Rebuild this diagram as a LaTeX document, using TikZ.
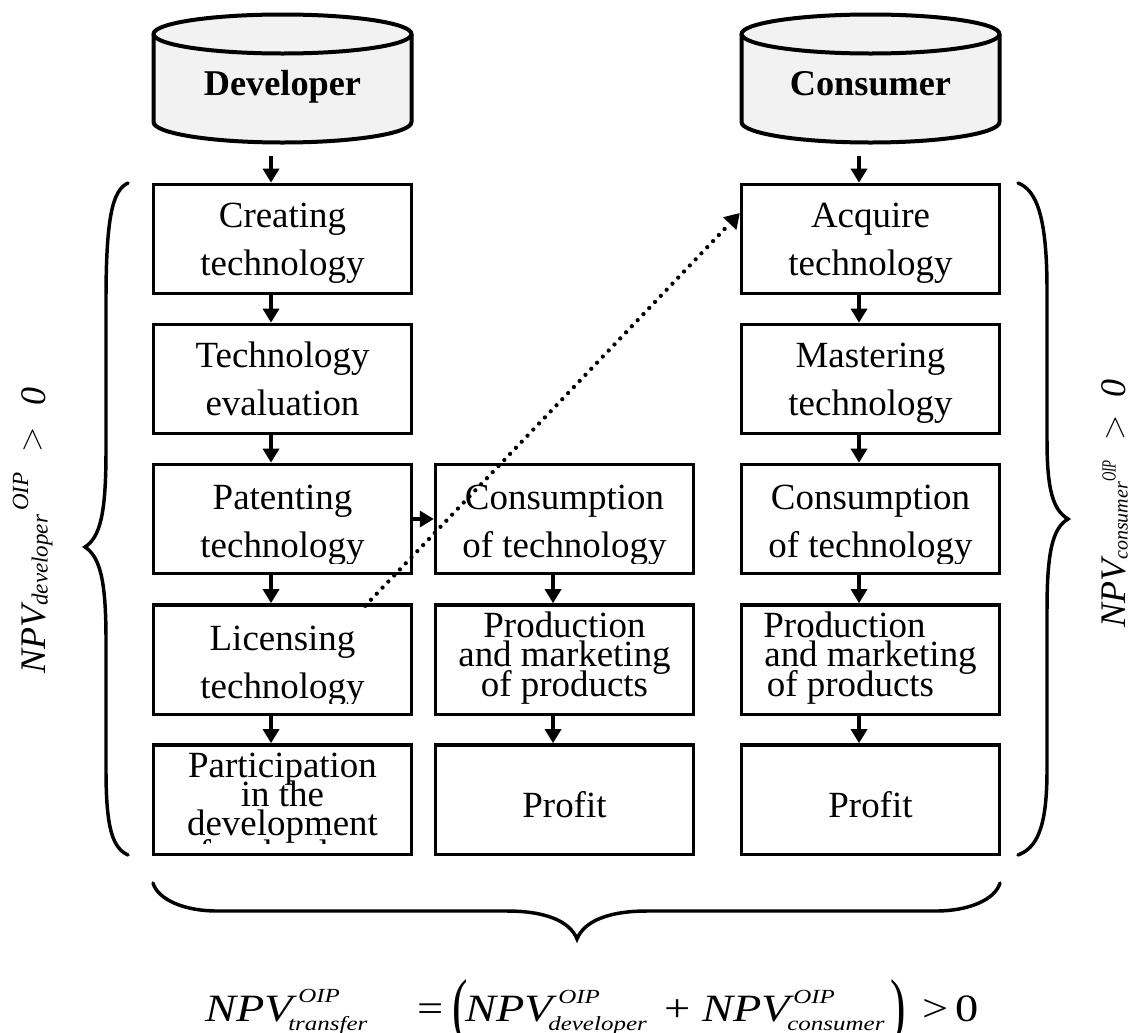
\documentclass[tikz,border=0pt]{standalone}
\usepackage{fontspec}
\usepackage{graphicx}
\setmainfont{Liberation Serif}
\usetikzlibrary{arrows.meta}
\lineskiplimit=-100pt
\tikzset{
  x=.75pt,y=-.75pt,
  ln/.style={line width=2.5pt},
  cellbox/.style={draw,ln,fill=white,minimum width=193.5pt,minimum height=82pt,inner sep=0pt},
  celltext/.style={inner sep=0pt,align=center,anchor=base},
  flow/.style={ln,-{Triangle[length=10.5pt,width=12pt]}},
  dots/.style={line width=3.2pt,line cap=round,dash pattern=on 0pt off 6.3pt,-{Triangle[length=11pt,width=13pt]}},
  brace/.style={line width=2.6pt,line cap=round},
  can/.style={line width=3pt,fill=black!5,line join=round},
  fpart/.style={inner sep=0pt,anchor=base west},
}
\newcommand\maintxt{\fontsize{27.7}{35.5}\selectfont}
\newcommand\tighttxt{\fontsize{27.7}{22}\selectfont}
% #1 name, #2 cx, #3 cy, #4 y of last baseline, #5 font, #6 text
\newcommand\cell[6]{%
  \node[cellbox] (#1) at (#2,#3) {};
  \begin{scope}
    #5
    \clip (#2-127,#3-54) rectangle (#2+127,#3+44);
    \node[celltext,font=#5] (#1t) at (#2,#4) {#6};
  \end{scope}}
\newcommand\fbig[1]{\scalebox{1.2}[1]{\fontsize{29}{29}\selectfont #1}}
\newcommand\fsmall[1]{\scalebox{1.25}[1]{\fontsize{15}{15}\selectfont\itshape #1}}
\newcommand\fparen[1]{\scalebox{1.2}[1.9]{\fontsize{29}{29}\selectfont #1}}
% #1 size, #2 script size, #3 sub, #4 sup raise, #5 sup stretch, #6 kern before sup, #7 kern before the zero, #8 raise of the sign
\newcommand\sidef[8]{{\fontsize{#1}{#1}\selectfont\itshape NPV{\fontsize{#2}{#2}\selectfont\raisebox{-2pt}{#3}\kern #6\raisebox{#4}{\scalebox{#5}[1]{OIP}}}\kern 15pt\raisebox{#8}{$>$}\kern #7 0}}
\begin{document}
\begin{tikzpicture}
\useasboundingbox (0,0) rectangle (1128,1032);
% cylinders
\foreach \n/\cx in {0/282.5,1/870.5}{
  \draw[can] (\cx-129,34) -- (\cx-129,122) arc[start angle=180,end angle=360,x radius=129,y radius=-20.5] -- (\cx+129,34);
  \draw[can] (\cx,34) ellipse[x radius=129,y radius=19.5];
}
\node[inner sep=0pt,minimum width=193.5pt,minimum height=97pt] (dev) at (282.5,79) {};
\node[inner sep=0pt,minimum width=193.5pt,minimum height=97pt] (con) at (870.5,79) {};
\node[inner sep=0pt,anchor=base,font=\fontsize{27.2}{30}\selectfont\bfseries] (devt) at (282.5,95) {Developer};
\node[inner sep=0pt,anchor=base,font=\fontsize{27.2}{30}\selectfont\bfseries] (cont) at (870.5,95) {Consumer};
% column 1
\cell{a1}{282.5}{239}{275}{\maintxt}{Creating\\technology}
\cell{a2}{282.5}{379}{415}{\maintxt}{Technology\\evaluation}
\cell{a3}{282.5}{519}{557}{\maintxt}{Patenting\\technology}
\cell{a4}{282.5}{659.5}{698}{\maintxt}{Licensing\\technology}
\cell{a5}{282.5}{799.5}{865}{\tighttxt}{Participation\\in the\\development\\of technology}
% column 2
\cell{b3}{564.5}{519}{557}{\maintxt}{Consumption\\of technology}
\cell{b4}{564.5}{659.5}{696}{\tighttxt}{Production\\and marketing\\of products}
\cell{b5}{564.5}{799.5}{817}{\maintxt}{Profit}
% column 3
\cell{c1}{870.5}{239}{275}{\maintxt}{Acquire\\technology}
\cell{c2}{870.5}{379}{415}{\maintxt}{Mastering\\technology}
\cell{c3}{870.5}{519}{557}{\maintxt}{Consumption\\of technology}
\cell{c4}{870.5}{659.5}{696}{\tighttxt}{Production\hspace*{39pt}\\and marketing\\of products\hspace*{30pt}}
\cell{c5}{870.5}{799.5}{817}{\maintxt}{Profit}
% arrows
\draw[flow,shorten <=9pt] ([xshift=-8.6pt]dev.south) -- ([xshift=-8.6pt]a1.north);
\draw[flow,shorten <=9pt] ([xshift=-8.6pt]con.south) -- ([xshift=-8.6pt]c1.north);
\foreach \p/\q in {a1/a2,a2/a3,a3/a4,a4/a5,b3/b4,b4/b5,c1/c2,c2/c3,c3/c4,c4/c5}
  \draw[flow] ([xshift=-8.6pt]\p.south) -- ([xshift=-8.6pt]\q.north);
\draw[flow] (a3.east) -- (b3.west);
\draw[dots] ([xshift=62pt,yshift=-2pt]a4.north) -- ([yshift=19.5pt]c1.west);
% braces
\draw[brace] (128,183) .. controls (113,190) and (106,215) .. (106,300) -- (106,450)
  .. controls (106,515) and (100,537) .. (85,547)
  .. controls (100,557) and (106,580) .. (106,640) -- (106,770)
  .. controls (106,830) and (113,848) .. (128,855);
\draw[brace] (1018,183) .. controls (1036,190) and (1047,215) .. (1047,290) -- (1047,440)
  .. controls (1047,490) and (1053,510) .. (1068,519)
  .. controls (1053,528) and (1047,550) .. (1047,610) -- (1047,770)
  .. controls (1047,830) and (1036,848) .. (1018,855);
\draw[brace] (153,883) .. controls (158,900) and (185,911) .. (217,911) -- (507,911)
  .. controls (545,911) and (570,921) .. (577,939)
  .. controls (584,921) and (609,911) .. (647,911) -- (936,911)
  .. controls (968,911) and (995,900) .. (1000,883);
% side formulas
\node[inner sep=0pt,anchor=base west,rotate=90] (fl) at (45,674) {\sidef{27}{17.3}{developer}{12.75pt}{1}{3pt}{16pt}{3pt}};
\node[inner sep=0pt,anchor=base west,rotate=90] (fr) at (1125,628) {\sidef{27}{15}{consumer}{7pt}{.65}{0pt}{13pt}{1pt}};
% bottom formula
\node[fpart] (n1) at (205,1021) {\fbig{\itshape NPV}};
\node[fpart] (s1) at (298,1002) {\fsmall{OIP}};
\node[fpart] (t1) at (288,1030) {\fsmall{transfer}};
\node[fpart] (eq) at (417,1021) {\fbig{=}};
\node[fpart] (lp) at (452,1030) {\fparen{(}};
\node[fpart] (n2) at (465,1021) {\fbig{\itshape NPV}};
\node[fpart] (s2) at (558,1003) {\fsmall{OIP}};
\node[fpart] (t2) at (548,1030) {\fsmall{developer}};
\node[fpart] (pl) at (664,1021) {\fbig{+}};
\node[fpart] (n3) at (702,1021) {\fbig{\itshape NPV}};
\node[fpart] (s3) at (793,1003) {\fsmall{OIP}};
\node[fpart] (t3) at (787,1030) {\fsmall{consumer}};
\node[fpart] (rp) at (890,1030) {\fparen{)}};
\node[fpart] (gt) at (922,1021) {\fbig{>}};
\node[fpart] (zr) at (955,1021) {\fbig{0}};
\end{tikzpicture}
\end{document}
